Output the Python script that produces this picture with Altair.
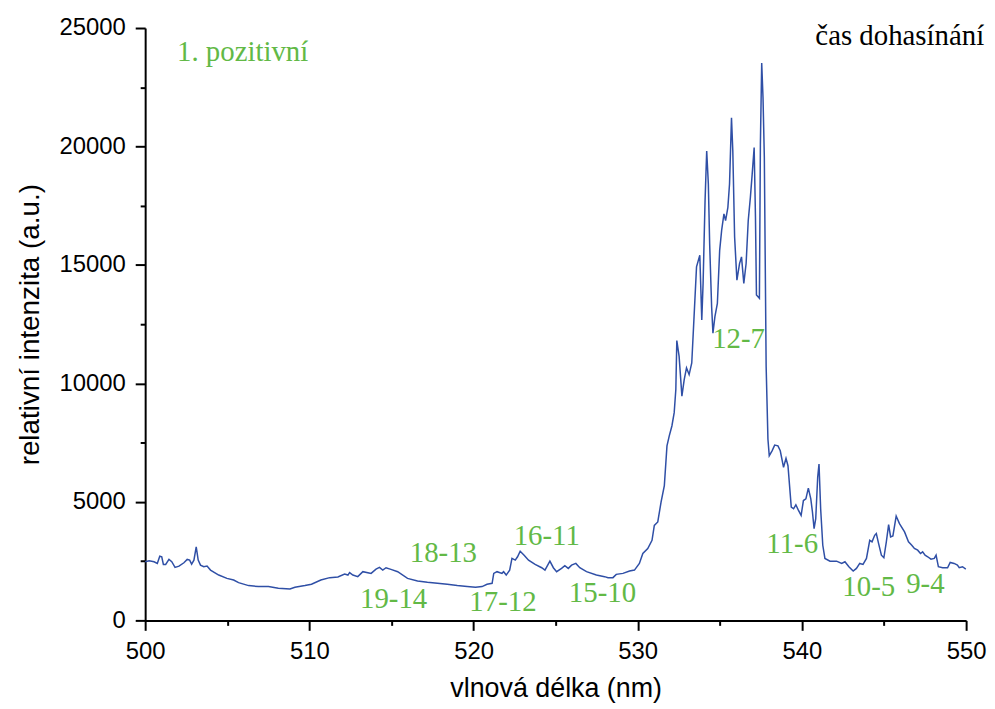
import altair as alt
import pandas as pd

# ---- spectrum ----
wavelength = [
    500.00, 500.24, 500.54, 500.74, 500.89, 501.01, 501.11, 501.25, 501.45, 501.62,
    501.82, 502.06, 502.36, 502.56, 502.71, 502.83, 502.97, 503.11, 503.23, 503.37,
    503.57, 503.77, 503.98, 504.48, 504.98, 505.39, 505.69, 506.30, 506.90, 507.51,
    508.11, 508.82, 509.12, 509.73, 510.13, 510.70, 511.24, 511.74, 512.15, 512.35,
    512.45, 512.65, 512.95, 513.26, 513.76, 514.06, 514.27, 514.47, 514.67, 514.97,
    515.38, 515.98, 516.59, 517.19, 517.80, 518.40, 519.01, 519.61, 520.12, 520.52,
    520.82, 521.13, 521.23, 521.43, 521.73, 521.83, 521.99, 522.20, 522.34, 522.54,
    522.68, 522.84, 523.08, 523.35, 523.75, 524.15, 524.35, 524.65, 524.86, 525.06,
    525.36, 525.56, 525.77, 525.97, 526.23, 526.47, 526.88, 527.48, 527.98, 528.19,
    528.49, 528.69, 529.10, 529.50, 529.80, 530.10, 530.31, 530.61, 530.87, 531.01,
    531.22, 531.42, 531.62, 531.78, 531.92, 532.08, 532.22, 532.32, 532.38, 532.52,
    532.69, 532.83, 532.97, 533.13, 533.29, 533.43, 533.58, 533.78, 533.90, 533.98,
    534.10, 534.20, 534.30, 534.38, 534.50, 534.58, 534.70, 534.85, 534.99, 535.11,
    535.25, 535.35, 535.49, 535.59, 535.71, 535.79, 535.90, 536.04, 536.20, 536.32,
    536.46, 536.60, 536.73, 536.86, 536.97, 537.09, 537.17, 537.23, 537.41, 537.47,
    537.55, 537.63, 537.71, 537.82, 537.93, 538.01, 538.18, 538.34, 538.54, 538.68,
    538.88, 539.03, 539.15, 539.35, 539.49, 539.63, 539.79, 539.95, 540.09, 540.24,
    540.39, 540.54, 540.64, 540.74, 540.84, 540.96, 541.04, 541.14, 541.27, 541.40,
    541.71, 542.11, 542.42, 542.62, 542.86, 543.12, 543.32, 543.52, 543.72, 543.93,
    544.13, 544.27, 544.43, 544.53, 544.67, 544.84, 544.99, 545.14, 545.28, 545.40,
    545.54, 545.74, 545.94, 546.25, 546.49, 546.69, 546.85, 547.05, 547.22, 547.35,
    547.50, 547.66, 547.86, 548.06, 548.17, 548.31, 548.57, 548.87, 549.03, 549.27,
    549.47, 549.58, 549.78, 549.98,
]
intensity = [
    2475, 2517, 2475, 2404, 2710, 2685, 2362, 2362, 2572, 2475,
    2236, 2290, 2433, 2572, 2542, 2374, 2542, 3104, 2542, 2332,
    2265, 2290, 2123, 1913, 1774, 1703, 1594, 1468, 1426, 1426,
    1355, 1326, 1397, 1468, 1523, 1703, 1804, 1829, 1955, 1913,
    2014, 1913, 1846, 2056, 1984, 2165, 2236, 2123, 2223, 2152,
    2056, 1774, 1661, 1607, 1565, 1523, 1468, 1426, 1397, 1426,
    1523, 1565, 1984, 2056, 1984, 2056, 1913, 2123, 2614, 2542,
    2685, 2920, 2752, 2542, 2362, 2223, 2123, 2500, 2223, 2056,
    2194, 2307, 2194, 2332, 2404, 2223, 2056, 1913, 1846, 1804,
    1804, 1942, 1984, 2081, 2123, 2400, 2823, 3033, 3381, 4010,
    4153, 4992, 5689, 7366, 7786, 8205, 8768, 9745, 11813, 11142,
    9464, 10164, 10656, 10374, 10865, 12820, 14918, 15409, 12682, 14222,
    17716, 19813, 18416, 15899, 13240, 12124, 12820, 13382, 15618, 16457,
    17157, 16876, 17434, 18416, 21210, 19813, 16177, 14360, 15060, 15339,
    14222, 15060, 16876, 17855, 18835, 19953, 17015, 13731, 13592, 20093,
    23518, 22049, 19533, 10723, 7647, 6947, 7157, 7396, 7366, 7157,
    6460, 6838, 6527, 4782, 4711, 4879, 4640, 4430, 5059, 5131,
    5580, 5131, 4573, 3872, 4292, 6041, 6599, 4711, 3171, 2614,
    2500, 2500, 2404, 2475, 2265, 2081, 2194, 2404, 2362, 2614,
    3381, 3314, 3591, 3662, 3243, 2752, 2643, 3314, 4040, 3524,
    3566, 4405, 4082, 3734, 3314, 3171, 3033, 2962, 2823, 2894,
    2752, 2685, 2584, 2614, 2752, 2265, 2223, 2223, 2446, 2404,
    2332, 2223, 2265, 2165,
]

# ---- band labels (green) ----
band_text = ["18-13", "19-14", "17-12", "16-11", "15-10", "12-7", "11-6", "10-5", "9-4"]
band_x = [518.16, 515.13, 521.79, 524.46, 527.85, 536.14, 539.41, 544.07, 547.52]
band_y = [2475, 516, 403, 3200, 797, 11494, 2823, 1032, 1145]

# ---- corner labels ----
system_text = ["1. pozitivní"]
system_x = [501.94]
system_y = [23620]
phase_text = ["čas dohasínání"]
phase_x = [551.1]
phase_y = [24290]

# ---- axis ticks ----
x_major = [500, 510, 520, 530, 540, 550]
x_minor = [505, 515, 525, 535, 545]
y_major = [0, 5000, 10000, 15000, 20000, 25000]
y_minor = [2500, 7500, 12500, 17500, 22500]

df = pd.DataFrame({"wl": wavelength, "val": intensity})
bands = pd.DataFrame({"t": band_text, "x": band_x, "y": band_y})
sysdf = pd.DataFrame({"t": system_text, "x": system_x, "y": system_y})
phasedf = pd.DataFrame({"t": phase_text, "x": phase_x, "y": phase_y})

xscale = alt.Scale(domain=[500, 550], nice=False, zero=False)
yscale = alt.Scale(domain=[0, 25000], nice=False)

AXFONT = "Liberation Sans"
SERIF = "Liberation Serif"
GREEN = "#62b946"

common_axis = dict(
    domainColor="black", domainWidth=2, tickColor="black", tickWidth=2,
    grid=False, labelFont=AXFONT, labelColor="black", titleFont=AXFONT,
    titleColor="black", titleFontWeight="normal", labelFlush=False,
    labelOverlap=False,
)

line = alt.Chart(df).mark_line(color="#2f4fa6", strokeWidth=1.5).encode(
    x=alt.X("wl:Q", scale=xscale, axis=alt.Axis(
        orient="bottom", values=x_major, format="d", tickSize=10,
        labelFontSize=24, labelPadding=9, title="vlnová délka (nm)",
        titleFontSize=27, titlePadding=13, **common_axis)),
    y=alt.Y("val:Q", scale=yscale, axis=alt.Axis(
        orient="left", values=y_major, format="d", tickSize=10,
        labelFontSize=24, labelPadding=10, title="relativní intenzita (a.u.)",
        titleFontSize=28, titlePadding=15, **common_axis)),
)

minor = alt.Chart(df).mark_line(opacity=0).encode(
    x=alt.X("wl:Q", scale=xscale, axis=alt.Axis(
        orient="bottom", values=x_minor, tickSize=5, labels=False,
        domain=False, title=None, grid=False, tickColor="black", tickWidth=2)),
    y=alt.Y("val:Q", scale=yscale, axis=alt.Axis(
        orient="left", values=y_minor, tickSize=5, labels=False,
        domain=False, title=None, grid=False, tickColor="black", tickWidth=2)),
)

band_layer = alt.Chart(bands).mark_text(
    font=SERIF, fontSize=29, color=GREEN, align="center", baseline="alphabetic"
).encode(
    x=alt.X("x:Q", scale=xscale, axis=None),
    y=alt.Y("y:Q", scale=yscale, axis=None),
    text="t:N",
)

sys_layer = alt.Chart(sysdf).mark_text(
    font=SERIF, fontSize=29, color=GREEN, align="left", baseline="alphabetic"
).encode(
    x=alt.X("x:Q", scale=xscale, axis=None),
    y=alt.Y("y:Q", scale=yscale, axis=None),
    text="t:N",
)

phase_layer = alt.Chart(phasedf).mark_text(
    font=SERIF, fontSize=29, color="black", align="right", baseline="alphabetic"
).encode(
    x=alt.X("x:Q", scale=xscale, axis=None),
    y=alt.Y("y:Q", scale=yscale, axis=None),
    text="t:N",
)

chart = alt.layer(minor, line, band_layer, sys_layer, phase_layer).resolve_axis(
    x="independent", y="independent"
).properties(
    width=826, height=596,
    autosize=alt.AutoSizeParams(type="none"),
    padding={"left": 138, "top": 18, "right": 21, "bottom": 85},
    background="white",
).configure_view(stroke=None)

chart.save("out.html", embed_options={"renderer": "svg", "actions": False})
